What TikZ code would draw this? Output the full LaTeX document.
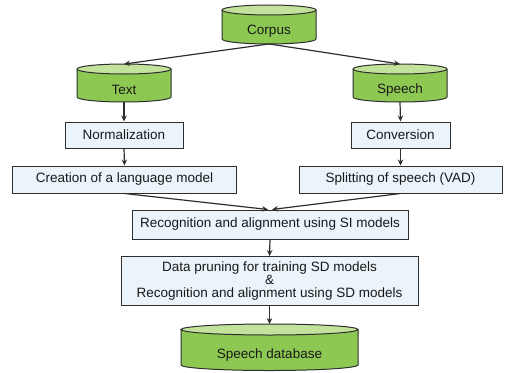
\documentclass[tikz,border=0pt]{standalone}
\usepackage{fontspec}
\setmainfont{Liberation Sans}
\usetikzlibrary{arrows.meta}
\definecolor{cylbody}{HTML}{8DC853}
\definecolor{cyltop}{HTML}{C3E29B}
\definecolor{boxfill}{HTML}{EAF4FA}
\definecolor{edge}{HTML}{2E2E2E}
\newcommand{\dbcyl}[7]{% name, cx, Ytop(center of top ellipse), Ybot(center of bottom ellipse), half width, ry, text
  \fill[cylbody] (#2-#5,#3) -- (#2-#5,#4) arc[start angle=180,end angle=360,x radius=#5bp,y radius=#6bp] -- (#2+#5,#3) -- cycle;
  \draw[edge,line width=1bp] (#2-#5,#3) -- (#2-#5,#4) arc[start angle=180,end angle=360,x radius=#5bp,y radius=#6bp] -- (#2+#5,#3);
  \draw[edge,line width=1bp,fill=cyltop] (#2,#3) ellipse[x radius=#5bp,y radius=#6bp];
  \node[cyltext,minimum width=2*#5bp,minimum height=#3-#4+2*#6 bp] (#1) at (#2,{(#3+#4)/2}) {};
  \node[cyltext] at (#2,{(#3-#6+#4-#6)/2-2}) {#7};
}
\begin{document}
\begin{tikzpicture}[x=1bp,y=1bp,
  font=\fontsize{13.5bp}{12.8bp}\selectfont,
  cyltext/.style={inner sep=0pt,outer sep=0pt,text=black!90},
  procbox/.style={draw=edge,line width=1bp,fill=boxfill,inner sep=0pt,align=center,text=black!90},
  flow/.style={edge,line width=1.2bp,-{Stealth[length=6bp,width=5.5bp]}}]
\useasboundingbox (0,0) rectangle (506,372);
% cylinders (Y = 372 - pixel y)
\dbcyl{corpus}{269}{362}{333}{47}{5}{Corpus}
\dbcyl{text}{124}{303}{275}{47}{5}{Text}
\dbcyl{speech}{400}{303}{275}{47}{5}{Speech}
\dbcyl{db}{269.5}{42.5}{7}{88.5}{5.5}{Speech database}
% boxes
\node[procbox,minimum width=118bp,minimum height=26bp] (norm) at (124,237) {Normalization};
\node[procbox,minimum width=99bp,minimum height=26bp] (conv) at (400.5,237) {Conversion};
\node[procbox,minimum width=223bp,minimum height=27bp] (lm) at (124.5,192.5) {Creation of a language model};
\node[procbox,minimum width=203bp,minimum height=27bp] (vad) at (400.5,192.5) {Splitting of speech (VAD)};
\node[procbox,minimum width=276bp,minimum height=29bp] (si) at (270,147.5) {Recognition and alignment using SI models};
\node[procbox,minimum width=297bp,minimum height=49bp] (sd) at (269.5,91) {Data pruning for training SD models\\[0.5bp]\&\\[0.5bp]Recognition and alignment using SD models};
% connectors
\coordinate (siL) at ([xshift=-2bp]si.north);
\coordinate (siR) at ([xshift=2bp]si.north);
\draw[flow] (corpus.south) -- (text.north);
\draw[flow] (corpus.south) -- (speech.north);
\draw[flow] (text.south) -- (norm.north);
\draw[flow] (norm.south) -- (lm.north);
\draw[flow] (speech.south) -- (conv.north);
\draw[flow] (conv.south) -- (vad.north);
\draw[flow] (lm.south) -- (siL);
\draw[flow] (vad.south) -- (siR);
\draw[flow] (si.south) -- (sd.north);
\draw[flow] (sd.south) -- (db.north);
\end{tikzpicture}
\end{document}
